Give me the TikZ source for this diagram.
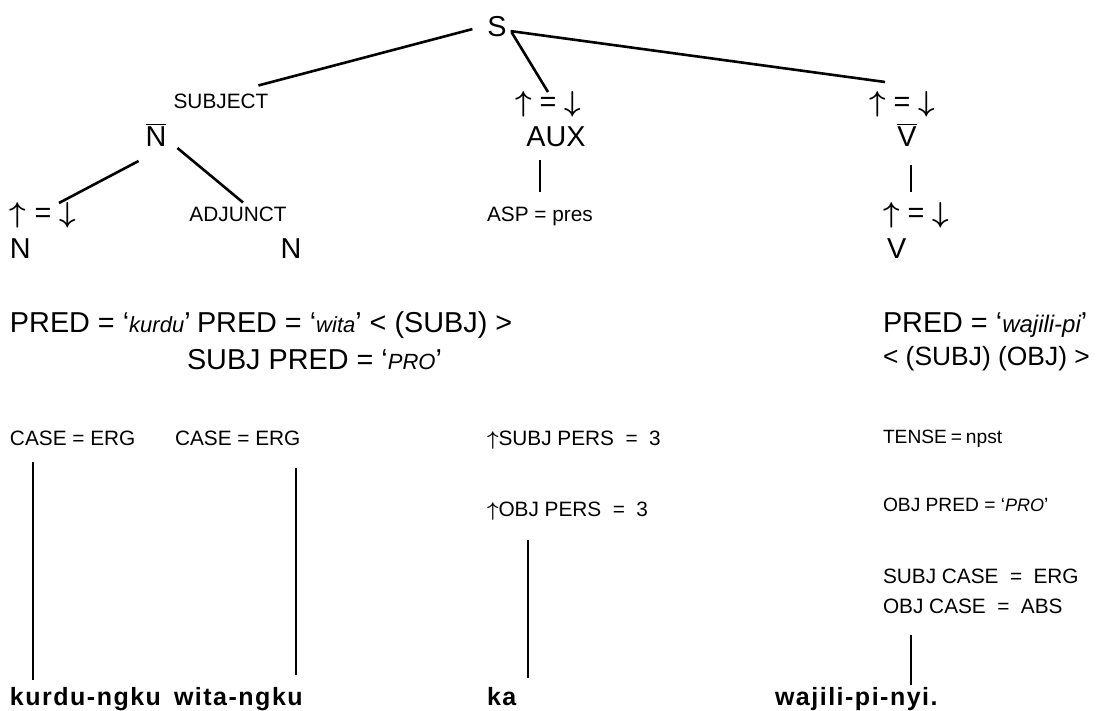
\documentclass[tikz,border=0pt]{standalone}
\usepackage{fontspec}
\setmainfont{Liberation Sans}
\newfontfamily\wordfont[LetterSpace=6]{Liberation Sans}
\usetikzlibrary{positioning, calc}
\tikzset{
  big/.style={inner sep=0pt, outer sep=0pt, font=\fontsize{14.4}{17}\selectfont},
  small/.style={inner sep=0pt, outer sep=0pt, font=\fontsize{10.4}{12.5}\selectfont},
  word/.style={inner sep=0pt, outer sep=0pt, font=\wordfont\bfseries\fontsize{12.5}{15}\selectfont},
  branch/.style={line width=1.3pt}
}
\newcommand{\up}{{\boldmath$\uparrow$}}
\newcommand{\down}{{\boldmath$\downarrow$}}
\newcommand{\updown}{\up{} = \down}
\newcommand{\weq}{\hspace{0.55em}=\hspace{0.55em}}
\newcommand{\gl}[1]{{\fontsize{11}{13}\selectfont\itshape #1}}
\newcommand{\glsm}[1]{{\fontsize{9}{11}\selectfont\itshape #1}}

\begin{document}
\begin{tikzpicture}[x=0.5pt, y=-0.5pt]
  \useasboundingbox (0,0) rectangle (1096,711);

  % c-structure
  \node[big, anchor=base] (S) at (497,37) {S};
  \node[small, anchor=base] (subj) at (221,109) {SUBJECT};
  \node[big, anchor=base] (nbar) at (156,147) {$\overline{\mbox{N}}$};
  \node[big, anchor=base west] (nup) at (10,222) {\updown};
  \node[big, anchor=base west] (nl) at (10,258) {N};
  \node[small, anchor=base] (adj) at (238,221) {ADJUNCT};
  \node[big, anchor=base] (nr) at (291,258) {N};

  \node[big, anchor=base] (auxup) at (548,112) {\updown};
  \node[big, anchor=base] (aux) at (556,147) {AUX};
  \node[small, anchor=base west] (asp) at (487,221) {ASP = pres};

  \node[big, anchor=base] (vup) at (902,112) {\updown};
  \node[big, anchor=base] (vbar) at (907,147) {$\overline{\mbox{V}}$};
  \node[big, anchor=base] (vdown) at (916,222) {\updown};
  \node[big, anchor=base west] (v) at (887,258) {V};

  % f-structure equations
  \node[big, anchor=base west] (predk) at (10,332) {PRED = ‘\gl{kurdu}’};
  \node[big, anchor=base west] (predw) at (197,332) {PRED = ‘\gl{wita}’ < (SUBJ) >};
  \node[big, anchor=base west] (subjpro) at (187,369) {SUBJ PRED = ‘\gl{PRO}’};
  \node[big, anchor=base west] (predv) at (883,332) {PRED = ‘{\fontsize{12}{14}\selectfont\itshape wajili-pi}’};
  \node[big, anchor=base west, font=\fontsize{13.2}{16}\selectfont] (args) at (883,365) {< (SUBJ) (OBJ) >};

  \node[small, anchor=base west] (case1) at (10,445) {CASE = ERG};
  \node[small, anchor=base west] (case2) at (175,445) {CASE = ERG};
  \node[small, anchor=base west] (subjpers) at (487,445) {\up SUBJ PERS\weq 3};
  \node[small, anchor=base west, font=\fontsize{9.6}{11}\selectfont] (tense) at (883,443) {TENSE\hspace{0.2em}=\hspace{0.2em}npst};
  \node[small, anchor=base west] (objpers) at (487,516) {\up OBJ PERS\weq 3};
  \node[small, anchor=base west, font=\fontsize{9.6}{11}\selectfont] (objpred) at (883,511) {OBJ PRED = ‘\glsm{PRO}’};
  \node[small, anchor=base west] (subjcase) at (883,583) {SUBJ CASE\weq ERG};
  \node[small, anchor=base west] (objcase) at (883,613) {OBJ CASE\weq ABS};

  % words
  \node[word, anchor=base west] (kurdu) at (10,705) {kurdu-ngku};
  \node[word, anchor=base west] (wita) at (174,705) {wita-ngku};
  \node[word, anchor=base west] (ka) at (487,705) {ka};
  \node[word, anchor=base west] (wajili) at (775,705) {wajili-pi-nyi.};

  % tree branches
  \draw[branch] ([shift={(-15,2)}]S.west) -- ([shift={(-10,-9)}]subj.north east);
  \draw[branch] ([shift={(5,-5)}]S.south east) -- (auxup.north);
  \draw[branch] ([shift={(4,4)}]S.east) -- ([shift={(16,-10)}]vup.north west);
  \draw[branch] ([shift={(-7,14)}]nbar.south west) -- ([shift={(-17,1)}]nup.north east);
  \draw[branch] ([shift={(11,1)}]nbar.south east) -- ([shift={(5,-4)}]adj.north);
  \draw[branch, shorten <=6.5pt, shorten >=7pt] (aux.south -| asp.north) -- (asp.north);
  \coordinate (vb) at ([xshift=2pt]vbar.south);
  \draw[branch, shorten <=9pt, shorten >=5pt] (vb) -- (vb |- vdown.north);

  % links to the words
  \coordinate (k1) at ([xshift=11.5pt]case1.south west);
  \draw[branch, shorten <=8.5pt, shorten >=3.5pt] (k1) -- (k1 |- kurdu.north);
  \coordinate (w1) at ([xshift=60.5pt]case2.south west);
  \draw[branch, shorten <=11.5pt, shorten >=6pt] (w1) -- (w1 |- wita.north);
  \coordinate (ka1) at ([xshift=20.5pt]objpers.south west);
  \draw[branch, shorten <=10pt, shorten >=4.5pt] (ka1) -- (ka1 |- ka.north);
  \coordinate (wj) at ([xshift=14pt]objcase.south west);
  \draw[branch, shorten <=11pt, shorten >=1pt] (wj) -- (wj |- wajili.north);
\end{tikzpicture}
\end{document}
